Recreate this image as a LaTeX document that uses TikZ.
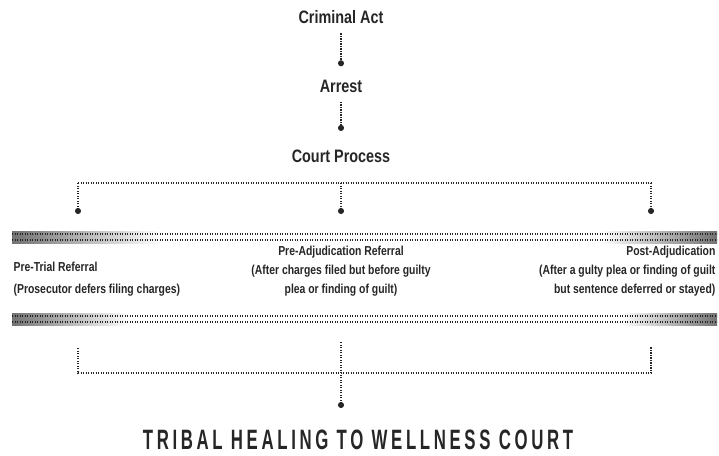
\documentclass[tikz,border=0pt]{standalone}
\usepackage{fontspec}
\usetikzlibrary{arrows.meta}
\newfontfamily\condfont[FakeStretch=0.8]{Liberation Sans}
\newfontfamily\titlefont[FakeStretch=0.6,LetterSpace=13]{Liberation Sans}
\tikzset{every path/.style={black!85,line width=1.3pt,dash pattern=on 1.4pt off 1.1pt},
  stage/.style={inner sep=1pt,font=\condfont\bfseries\fontsize{18}{20}\selectfont},
  referral/.style={inner sep=1pt,font=\condfont\bfseries\fontsize{13}{19}\selectfont},
  dotend/.style={-{Circle[length=6pt,sep=0pt]}}}

\begin{document}
\begin{tikzpicture}[x=1pt,y=-1pt]
   \useasboundingbox (0,0) rectangle (719,455);
   \node[stage] (act) at (341,17) {Criminal Act};
   \node[stage] (arrest) at (341,86) {Arrest};
   \node[stage] (court) at (341,156) {Court Process};
   \draw[dotend] (act.south) ++(0,8) -- ++(0,33);
   \draw[dotend] (arrest.south) ++(0,8) -- ++(0,29);
   % upper bracket
   \coordinate (ul) at (78,183);
   \coordinate (ur) at (651,183);
   \coordinate (um) at (341,183);
   \draw (ul) -- (ur);
   \draw[dotend] (ul) -- ++(0,31);
   \draw[dotend] (um) -- ++(0,31);
   \draw[dotend] (ur) -- ++(0,31);
   % bands
   \fill[left color=black!55,right color=white,draw=none] (12,231) rectangle (160,243);
   \fill[left color=white,right color=black!55,draw=none] (600,231) rectangle (717,243);
   \fill[left color=black!55,right color=white,draw=none] (12,313) rectangle (130,325);
   \fill[left color=white,right color=black!55,draw=none] (620,313) rectangle (717,325);
   \draw (12,234) -- (717,234);
   \draw (12,240) -- (717,240);
   \draw (12,316) -- (717,316);
   \draw (12,322) -- (717,322);
   % referrals
   \node[referral,anchor=north west,align=left] (pretrial) at (12,260)
     {Pre-Trial Referral\\[3pt](Prosecutor defers filing charges)};
   \node[referral,anchor=north,align=center] (preadj) at (341,244)
     {Pre-Adjudication Referral\\(After charges filed but before guilty\\plea or finding of guilt)};
   \node[referral,anchor=north east,align=right] (postadj) at (717,244)
     {Post-Adjudication\\(After a gulty plea or finding of guilt\\but sentence deferred or stayed)};
   % lower bracket
   \coordinate (ll) at (78,348);
   \coordinate (lr) at (651,347);
   \coordinate (lm) at (341,342);
   \coordinate (ld) at (341,408);
   \draw (ll) |- (lr |- 0,373) -- (lr);
   \node[inner sep=1pt,font=\titlefont\bfseries\fontsize{28}{30}\selectfont] (twc) at (358,440)
     {TRIBAL HEALING TO WELLNESS COURT};
   \draw[dotend] (lm) -- (ld);
\end{tikzpicture}
\end{document}
